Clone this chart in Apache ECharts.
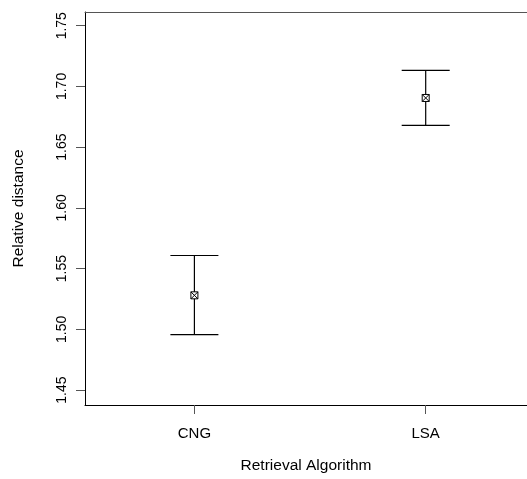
<!DOCTYPE html>
<html><head><meta charset="utf-8">
<script src="https://cdn.jsdelivr.net/npm/echarts@6/dist/echarts.min.js"></script>
<style>html,body{margin:0;padding:0;background:#fff}#c{width:527px;height:479px}</style>
</head><body><div id="c"></div>
<script>
var categories = ['CNG', 'LSA'];
var positions = [1, 2];
var means = [1.528, 1.6905];
var lower = [1.4956, 1.668];
var upper = [1.5608, 1.7132];
var yTicks = [1.45, 1.50, 1.55, 1.60, 1.65, 1.70, 1.75];

var FONT = 'Liberation Sans';
var chart = echarts.init(document.getElementById('c'));
var barData = positions.map(function (p, i) { return [p, lower[i], upper[i]]; });
var ptData = positions.map(function (p, i) { return [p, means[i]]; });

chart.setOption({
  animation: false,
  grid: { left: 85, top: 12, right: 0, bottom: 73 },
  xAxis: [{
    type: 'value', min: 0.527, max: 2.438, position: 'bottom',
    splitLine: { show: false },
    axisLine: { show: true, lineStyle: { color: '#000', width: 1 } },
    axisTick: { show: true, customValues: positions, length: 9, lineStyle: { color: '#555' } },
    axisLabel: { show: true, customValues: positions, margin: 21, fontFamily: FONT, fontSize: 15, color: '#000',
      formatter: function (v) { var i = positions.indexOf(v); return i >= 0 ? categories[i] : ''; } },
    name: 'Retrieval Algorithm', nameLocation: 'middle', nameGap: 53,
    nameTextStyle: { fontFamily: FONT, fontSize: 15.5, color: '#000' }
  }, {
    type: 'value', min: 0.527, max: 2.438, position: 'top',
    splitLine: { show: false },
    axisLine: { show: true, lineStyle: { color: '#555', width: 1 } },
    axisTick: { show: false }, axisLabel: { show: false }
  }],
  yAxis: {
    type: 'value', min: 1.4377, max: 1.7613,
    splitLine: { show: false },
    axisLine: { show: true, lineStyle: { color: '#000', width: 1 } },
    axisTick: { show: true, customValues: yTicks, length: 9, lineStyle: { color: '#555' } },
    axisLabel: { show: true, customValues: yTicks, rotate: 90, margin: 16, fontFamily: FONT, fontSize: 14, color: '#000',
      formatter: function (v) { return v.toFixed(2); } },
    name: 'Relative distance', nameLocation: 'middle', nameGap: 58,
    nameTextStyle: { fontFamily: FONT, fontSize: 15.5, color: '#000' }
  },
  series: [{
    type: 'custom',
    data: barData,
    renderItem: function (params, api) {
      var x = api.value(0);
      var lo = api.coord([x, api.value(1)]);
      var hi = api.coord([x, api.value(2)]);
      var hw = 24;
      var style = { stroke: '#000', lineWidth: 1.2 };
      return { type: 'group', children: [
        { type: 'line', shape: { x1: lo[0], y1: lo[1], x2: hi[0], y2: hi[1] }, style: style },
        { type: 'line', shape: { x1: lo[0] - hw, y1: lo[1], x2: lo[0] + hw, y2: lo[1] }, style: style },
        { type: 'line', shape: { x1: hi[0] - hw, y1: hi[1], x2: hi[0] + hw, y2: hi[1] }, style: style }
      ] };
    }
  }, {
    type: 'custom',
    data: ptData,
    z: 5,
    renderItem: function (params, api) {
      var c = api.coord([api.value(0), api.value(1)]);
      var s = 3.5;
      var style = { stroke: '#000', lineWidth: 1, fill: '#fff' };
      return { type: 'group', children: [
        { type: 'rect', shape: { x: c[0] - s, y: c[1] - s, width: 2 * s, height: 2 * s }, style: style },
        { type: 'line', shape: { x1: c[0] - s, y1: c[1] - s, x2: c[0] + s, y2: c[1] + s }, style: { stroke: '#000', lineWidth: 1 } },
        { type: 'line', shape: { x1: c[0] - s, y1: c[1] + s, x2: c[0] + s, y2: c[1] - s }, style: { stroke: '#000', lineWidth: 1 } }
      ] };
    }
  }]
});
</script></body></html>
